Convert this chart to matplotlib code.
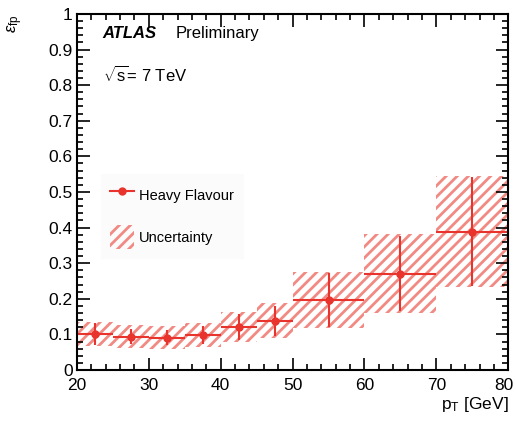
import matplotlib
matplotlib.use("Agg")
import matplotlib.pyplot as plt
import numpy as np
from matplotlib.ticker import MultipleLocator
from matplotlib.patches import Rectangle
from matplotlib.lines import Line2D
import matplotlib.transforms as mtransforms

# Data
bin_lo = [20, 25, 30, 35, 40, 45, 50, 60, 70]
bin_hi = [25, 30, 35, 40, 45, 50, 60, 70, 80]
eff = [0.101, 0.094, 0.091, 0.099, 0.121, 0.138, 0.197, 0.271, 0.389]
stat_err = [0.030, 0.020, 0.022, 0.025, 0.036, 0.042, 0.075, 0.105, 0.152]
unc = [0.034, 0.032, 0.033, 0.034, 0.041, 0.049, 0.079, 0.111, 0.157]
x_ticklabels = ['20', '30', '40', '50', '60', '70', '80']
y_ticklabels = ['0', '0.1', '0.2', '0.3', '0.4', '0.5', '0.6', '0.7', '0.8', '0.9', '1']

plt.rcParams['font.family'] = ['Liberation Sans', 'DejaVu Sans']
plt.rcParams['hatch.linewidth'] = 2.0
plt.rcParams['mathtext.fontset'] = 'custom'
plt.rcParams['mathtext.rm'] = 'Liberation Sans'
plt.rcParams['mathtext.it'] = 'Liberation Sans:italic'

red = '#e8342c'
hatch_col = '#f28a84'

fig = plt.figure(figsize=(5.16, 4.21), dpi=100)
ax = fig.add_axes([0.149, 0.121, 0.836, 0.846])

lo = np.array(bin_lo, float)
hi = np.array(bin_hi, float)
cen = (lo + hi) / 2
half = (hi - lo) / 2
y = np.array(eff)

for l, h, v, u in zip(lo, hi, y, unc):
    ax.add_patch(Rectangle((l, v - u), h - l, 2 * u, facecolor='none',
                           edgecolor=hatch_col, hatch='///', linewidth=0))

ax.errorbar(cen, y, xerr=half, yerr=stat_err, fmt='o', color=red,
            markersize=5, elinewidth=1.5, capsize=0)

ax.set_xlim(20, 80)
ax.set_ylim(0, 1)
ax.set_xticks(np.arange(20, 81, 10))
ax.set_xticklabels(x_ticklabels)
ax.set_yticks(np.arange(0, 1.01, 0.1))
ax.set_yticklabels(y_ticklabels)
ax.xaxis.set_minor_locator(MultipleLocator(2))
ax.yaxis.set_minor_locator(MultipleLocator(0.02))
ax.tick_params(which='both', direction='in', top=True, right=True, labelsize=12.5, width=1.2)
ax.tick_params(which='major', length=9)
ax.tick_params(which='minor', length=4.5)
ax.tick_params(axis='x', pad=6)
ax.tick_params(axis='y', pad=3)
for s in ax.spines.values():
    s.set_linewidth(1.5)

# keep the last x tick label inside the figure
last = ax.get_xticklabels()[-1]
last.set_transform(last.get_transform() + mtransforms.ScaledTranslation(-4 / 100, 0, fig.dpi_scale_trans))

ax.text(0.06, 0.944, 'ATLAS', transform=ax.transAxes, fontsize=12,
        fontweight='bold', fontstyle='italic', va='center')
ax.text(0.228, 0.944, 'Preliminary', transform=ax.transAxes, fontsize=12, va='center')
ax.text(0.06, 0.83, r'$\sqrt{\rm s}$= 7 TeV', transform=ax.transAxes, fontsize=12, va='center')

ax.set_xlabel(r'p$_{\rm T}$ [GeV]', fontsize=12.5, loc='right', labelpad=1)
fig.text(0.03, 0.965, r'$\epsilon_{\rm fp}$', rotation=90, fontsize=12, ha='center', va='top')

h1 = Line2D([], [], color=red, marker='o', markersize=5, linewidth=1.5)
h2 = Rectangle((0, 0), 1, 1, facecolor='none', edgecolor=hatch_col, hatch='///', linewidth=0)
leg = ax.legend([h1, h2], ['Heavy Flavour', 'Uncertainty'], loc='upper left',
                bbox_to_anchor=(0.04, 0.57), frameon=True, fontsize=10.5,
                handlelength=1.6, handleheight=2.2, labelspacing=1.2,
                fancybox=False, borderpad=0.6, handletextpad=0.4)
leg.get_frame().set_facecolor('#fbfbfb')
leg.get_frame().set_edgecolor('#fbfbfb')

fig.savefig('out.png', dpi=100)
